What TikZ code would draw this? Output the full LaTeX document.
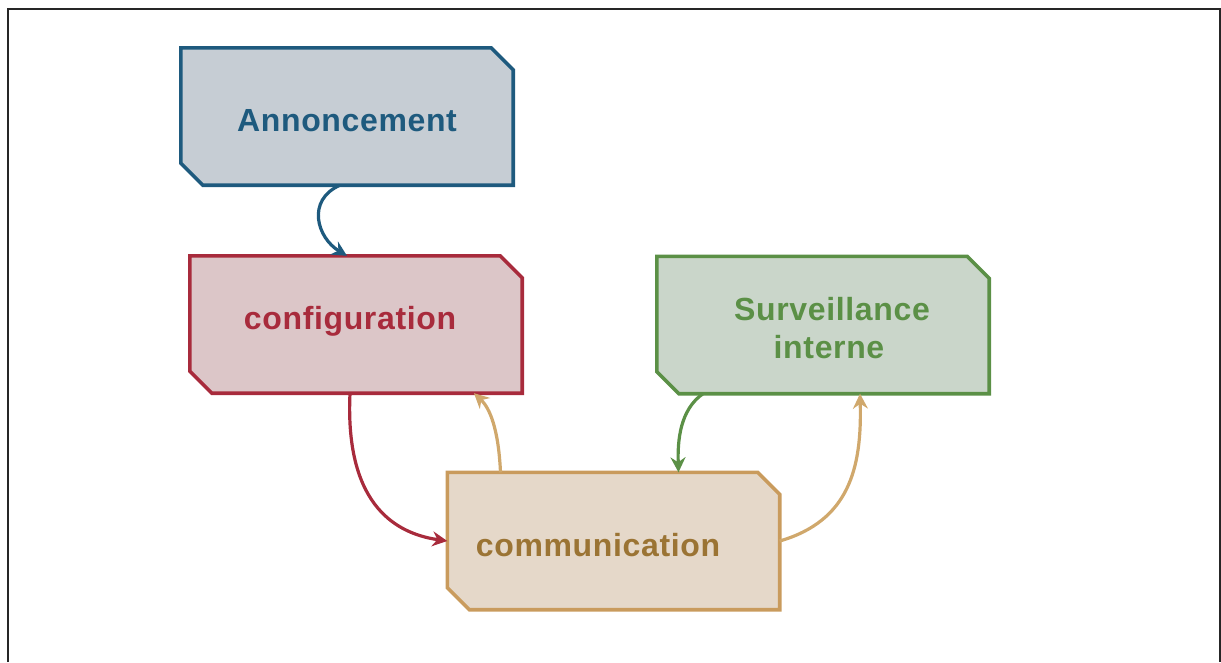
\documentclass[tikz,border=0pt]{standalone}
\usepackage{fontspec}
\setmainfont{Liberation Sans}[LetterSpace=2]
\usetikzlibrary{arrows.meta}
\definecolor{annD}{HTML}{1E5A7E}
\definecolor{annF}{HTML}{C6CDD4}
\definecolor{cfgD}{HTML}{A82B3C}
\definecolor{cfgF}{HTML}{DCC6C8}
\definecolor{surD}{HTML}{5B9046}
\definecolor{surF}{HTML}{CAD6CA}
\definecolor{comD}{HTML}{C99B5D}
\definecolor{comF}{HTML}{E5D8C9}
\definecolor{comT}{HTML}{9B7434}
\definecolor{comA}{HTML}{D0A86C}
\tikzset{
  box/.style={rectangle, minimum width=332pt, minimum height=137pt, inner sep=0pt},
  boxline/.style={line width=3.6pt, line join=miter},
  txt/.style={font=\fontsize{32}{37}\selectfont\bfseries, anchor=base},
  conn/.style={line width=3.2pt, -{Stealth[length=15pt,width=15pt,inset=5pt]}}
}
\newcommand\chamferbox[3]{%
  \path[boxline, draw=#2, fill=#3] (#1.north west) -- ([xshift=-22pt]#1.north east)
    -- ([yshift=-22pt]#1.north east) -- (#1.south east) -- ([xshift=22pt]#1.south west)
    -- ([yshift=22pt]#1.south west) -- cycle;}
\begin{document}
\begin{tikzpicture}[x=1pt,y=-1pt]
\useasboundingbox (0,0) rectangle (1221,662);
\draw[line width=2pt, black!85] (8,662) -- (8,9) -- (1220,9) -- (1220,662);
% boxes
\node[box] (ann) at (347,116.5) {};
\node[box] (cfg) at (356,324.5) {};
\node[box] (sur) at (823,325) {};
\node[box] (com) at (613.5,541) {};
\chamferbox{ann}{annD}{annF}
\chamferbox{cfg}{cfgD}{cfgF}
\chamferbox{sur}{surD}{surF}
\chamferbox{com}{comD}{comF}
% texts
\node[txt, text=annD] (tann) at (347,131) {Annoncement};
\node[txt, text=cfgD] (tcfg) at (350,329) {configuration};
\node[txt, text=surD] (tsur1) at (832,320) {Surveillance};
\node[txt, text=surD] (tsur2) at (829,358) {interne};
\node[txt, text=comT] (tcom) at (598,556) {communication};
% connectors
\draw[conn, draw=annD] ([xshift=-7pt]ann.south) .. controls +(-34,15) and +(-30,-18) .. (cfg.north -| ann.south);
\draw[conn, draw=cfgD] ([xshift=-6pt]cfg.south) .. controls +(-5,107) and +(-56,-8) .. (com.west);
\draw[conn, draw=comA] ([xshift=-113pt]com.north) .. controls +(-2,-43) and +(16,15) .. ([xshift=118pt]cfg.south);
\draw[conn, draw=surD] ([xshift=-120pt]sur.south) .. controls +(-23,16) and +(-1,-32) .. ([xshift=65pt]com.north);
\draw[conn, draw=comA] (com.east) .. controls +(69,-20) and +(2,75) .. ([xshift=37pt]sur.south);
\end{tikzpicture}
\end{document}
